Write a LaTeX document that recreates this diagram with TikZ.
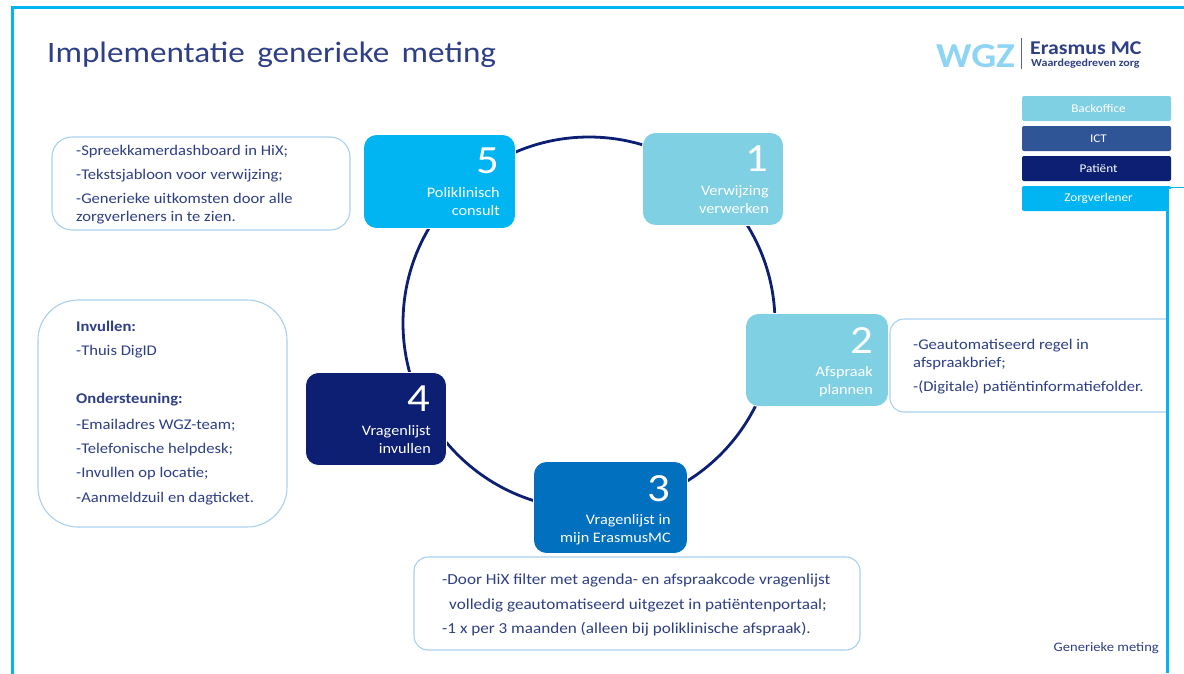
\documentclass[tikz,border=0pt]{standalone}
\usepackage{fontspec}
\setmainfont[FakeStretch=1.12]{Carlito}
\definecolor{frameblue}{HTML}{00B5F1}
\definecolor{navy}{HTML}{0C1F72}
\definecolor{lightteal}{HTML}{80D0E3}
\definecolor{midblue}{HTML}{0070BF}
\definecolor{ictblue}{HTML}{2F5597}
\definecolor{txtblue}{HTML}{2E3F85}
\definecolor{boxline}{HTML}{A9D0EE}
\definecolor{wgzblue}{HTML}{8DD4F5}
\newcommand{\legtext}[1]{\hspace*{4pt}\raisebox{-1pt}{#1}}
\tikzset{
  stepbox/.style={rounded corners=13pt,draw=white,line width=0.8pt,text=white,minimum height=#1,inner sep=0pt},
  steptext/.style={text=white,align=right,anchor=north east,inner sep=0pt,font=\fontsize{14.5}{18}\selectfont},
  numtext/.style={text=white,anchor=north east,inner sep=0pt,font=\fontsize{40}{40}\selectfont},
  infobox/.style={draw=boxline,line width=1.1pt,fill=white,inner sep=0pt},
  infotext/.style={text=txtblue,align=left,anchor=north west,inner sep=0pt,font=\fontsize{14.8}{18}\selectfont},
  infotextwide/.style={infotext,font=\fontsize{15.3}{18}\selectfont},
  legend/.style={rounded corners=2pt,text=white,inner sep=0pt,font=\fontsize{11.8}{14}\selectfont,minimum width=149pt,minimum height=25pt},
  frameline/.style={draw=frameblue,line width=3pt}
}
\begin{document}
\begin{tikzpicture}[x=1pt,y=-1pt]
\useasboundingbox (0,0) rectangle (1184,673);
% frame
\coordinate (f1) at (12.5,673); \coordinate (f2) at (12.5,7); \coordinate (f3) at (1184,7);
\coordinate (f4) at (1167.5,673); \coordinate (f5) at (1167.5,187.5); \coordinate (f6) at (1184,187.5);
% title
\node[anchor=base west,inner sep=0pt,text=txtblue,font=\fontsize{29.6}{30}\selectfont] (title) at (47,62) {Implementatie\ \,generieke\ \,meting};
% logo
\node[anchor=base west,inner sep=0pt,text=wgzblue,font=\fontsize{35}{36}\selectfont\bfseries] (wgz) at (936,67) {WGZ};
\node[anchor=north west,inner sep=0pt,align=left,text=txtblue,font=\bfseries] (emc) at (1030,42) {\fontsize{19.5}{11}\selectfont Erasmus MC\\\hspace*{1pt}\fontsize{10.7}{11}\selectfont Waardegedreven zorg};
\coordinate (sepa) at (1021.5,38); \coordinate (sepb) at (1021.5,69);
\draw[txtblue!80,line width=1pt] (sepa) -- (sepb);
% cycle
\coordinate (centre) at (589,323);
\draw[navy,line width=2.8pt] (centre) circle[radius=186];
% steps
\node[stepbox=93pt,fill=lightteal,minimum width=141pt] (s1) at (713,179) {};
\node[numtext] (n1) at (768,146) {1};
\node[steptext] (t1) at (769,185) {Verwijzing\\verwerken};
\node[stepbox=93pt,fill=lightteal,minimum width=143pt] (s2) at (817,360) {};
\node[numtext] (n2) at (873,327) {2};
\node[steptext] (t2) at (873,366) {Afspraak\\plannen};
\node[stepbox=92pt,fill=midblue,minimum width=154pt] (s3) at (610.5,507.5) {};
\node[numtext] (n3) at (670,475) {3};
\node[steptext] (t3) at (671,514) {Vragenlijst in\\mijn ErasmusMC};
\node[stepbox=93pt,fill=navy,minimum width=141pt] (s4) at (376,419) {};
\node[numtext] (n4) at (430,386) {4};
\node[steptext] (t4) at (431,425) {Vragenlijst\\invullen};
\node[stepbox=94pt,fill=frameblue,minimum width=152pt] (s5) at (439.5,181.5) {};
\node[numtext] (n5) at (499,148) {5};
\node[steptext] (t5) at (500,187) {Poliklinisch\\consult};
% info boxes
\node[infobox,rounded corners=20pt,minimum width=298pt,minimum height=93pt] (b5) at (201,183.5) {};
\node[infotext] (bt5) at (76,145) {-Spreekkamerdashboard in HiX;\\[6pt]-Tekstsjabloon voor verwijzing;\\[6.5pt]-Generieke uitkomsten door alle\\zorgverleners in te zien.};
\node[infobox,rounded corners=40pt,minimum width=249pt,minimum height=227pt] (b4) at (162.5,413.5) {};
\node[infotext] (bt4) at (76,321) {\textbf{Invullen:}\\[6pt]-Thuis DigID\\[30pt]\textbf{Ondersteuning:}\\[8pt]-Emailadres WGZ-team;\\[6pt]-Telefonische helpdesk;\\[6pt]-Invullen op locatie;\\[7pt]-Aanmeldzuil en dagticket.};
\node[infobox,rounded corners=14pt,minimum width=290pt,minimum height=93pt] (b2) at (1035,365.5) {};
\node[infotext] (bt2) at (913,339) {-Geautomatiseerd regel in\\afspraakbrief;\\[6pt]-(Digitale) patiëntinformatiefolder.};
\node[infobox,rounded corners=14pt,minimum width=446pt,minimum height=93pt] (b3) at (637,603.5) {};
\node[infotextwide] (bt3) at (442,574) {-Door HiX filter met agenda- en afspraakcode vragenlijst\\[6.5pt]\hspace*{7pt}volledig geautomatiseerd uitgezet in patiëntenportaal;\\[6.5pt]-1 x per 3 maanden (alleen bij poliklinische afspraak).};
% legend
\node[legend,fill=lightteal] (l1) at (1096.5,108.5) {\legtext{Backoffice}};
\node[legend,fill=ictblue] (l2) at (1096.5,138.5) {\legtext{ICT}};
\node[legend,fill=navy] (l3) at (1096.5,168.5) {\legtext{Patiënt}};
\node[legend,fill=frameblue] (l4) at (1096.5,198.5) {\legtext{Zorgverlener}};
% frame drawn over the legend
\fill[white] (1169,188.5) rectangle (1184,673);
\draw[frameline,line cap=rect] (f1) -- (f2) -- (f3);
\draw[frameline] (f4) -- (f5);
\draw[draw=frameblue,line width=1.5pt] (f5) -- (f6);
\node[anchor=base east,inner sep=0pt,text=txtblue,font=\fontsize{13}{14}\selectfont] (foot) at (1159,651) {Generieke meting};
\end{tikzpicture}
\end{document}
